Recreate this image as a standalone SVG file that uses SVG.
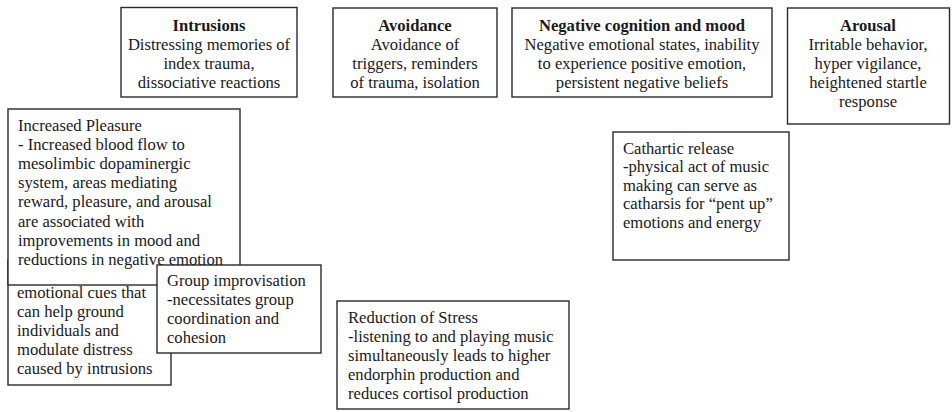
<svg xmlns="http://www.w3.org/2000/svg" width="952" height="412" viewBox="0 0 952 412">
<style>
  .box { fill: #ffffff; stroke: #2a2a2a; stroke-width: 1.4; }
  text { font-family: 'Liberation Serif', 'Times New Roman', serif; font-size: 16.6px; fill: #1a1a1a; }
  .c { text-anchor: middle; }
  .b { font-weight: bold; }
</style>
<rect width="952" height="412" fill="#ffffff"/>
<g id="connectors"></g>

<g id="intrusions">
  <rect class="box" x="121" y="7.5" width="176" height="89.5"/>
  <text class="c b" x="209" y="31">Intrusions</text>
  <text class="c" x="209" y="50">Distressing memories of</text>
  <text class="c" x="209" y="69">index trauma,</text>
  <text class="c" x="209" y="88">dissociative reactions</text>
</g>

<g id="avoidance">
  <rect class="box" x="333" y="8" width="164" height="89"/>
  <text class="c b" x="415" y="31">Avoidance</text>
  <text class="c" x="415" y="50">Avoidance of</text>
  <text class="c" x="415" y="69">triggers, reminders</text>
  <text class="c" x="415" y="88">of trauma, isolation</text>
</g>

<g id="negative-cognition">
  <rect class="box" x="512" y="8" width="260" height="89"/>
  <text class="c b" x="642" y="31">Negative cognition and mood</text>
  <text class="c" x="642" y="50">Negative emotional states, inability</text>
  <text class="c" x="642" y="69">to experience positive emotion,</text>
  <text class="c" x="642" y="88">persistent negative beliefs</text>
</g>

<g id="arousal">
  <rect class="box" x="787.5" y="8" width="162" height="116"/>
  <text class="c b" x="868" y="31">Arousal</text>
  <text class="c" x="868" y="50">Irritable behavior,</text>
  <text class="c" x="868" y="69">hyper vigilance,</text>
  <text class="c" x="868" y="88">heightened startle</text>
  <text class="c" x="868" y="107">response</text>
</g>

<g id="grounding">
  <rect class="box" x="8" y="260" width="163" height="125"/>
  <text x="17" y="297.5">emotional cues that</text>
  <text x="17" y="316.5">can help ground</text>
  <text x="17" y="335.5">individuals and</text>
  <text x="17" y="354.5">modulate distress</text>
  <text x="17" y="373.5">caused by intrusions</text>
</g>

<g id="increased-pleasure">
  <rect class="box" x="8" y="109" width="232" height="176"/>
  <text x="18" y="130.5">Increased Pleasure</text>
  <text x="18" y="149.7">- Increased blood flow to</text>
  <text x="18" y="168.9">mesolimbic dopaminergic</text>
  <text x="18" y="188.1">system, areas mediating</text>
  <text x="18" y="207.3">reward, pleasure, and arousal</text>
  <text x="18" y="226.5">are associated with</text>
  <text x="18" y="245.7">improvements in mood and</text>
  <text x="18" y="264.9">reductions in negative emotion</text>
</g>

<g id="group-improvisation">
  <rect class="box" x="157" y="265" width="164" height="88"/>
  <text x="167" y="285.5">Group improvisation</text>
  <text x="167" y="305">-necessitates group</text>
  <text x="167" y="324">coordination and</text>
  <text x="167" y="343">cohesion</text>
</g>

<g id="reduction-of-stress">
  <rect class="box" x="337" y="301" width="232" height="108"/>
  <text x="348" y="322.5">Reduction of Stress</text>
  <text x="348" y="341.5">-listening to and playing music</text>
  <text x="348" y="360.5">simultaneously leads to higher</text>
  <text x="348" y="379.5">endorphin production and</text>
  <text x="348" y="398.5">reduces cortisol production</text>
</g>

<g id="cathartic-release">
  <rect class="box" x="613" y="132" width="176" height="128"/>
  <text x="623" y="153.5">Cathartic release</text>
  <text x="623" y="172">-physical act of music</text>
  <text x="623" y="190.5">making can serve as</text>
  <text x="623" y="209">catharsis for “pent up”</text>
  <text x="623" y="227.5">emotions and energy</text>
</g>
</svg>
